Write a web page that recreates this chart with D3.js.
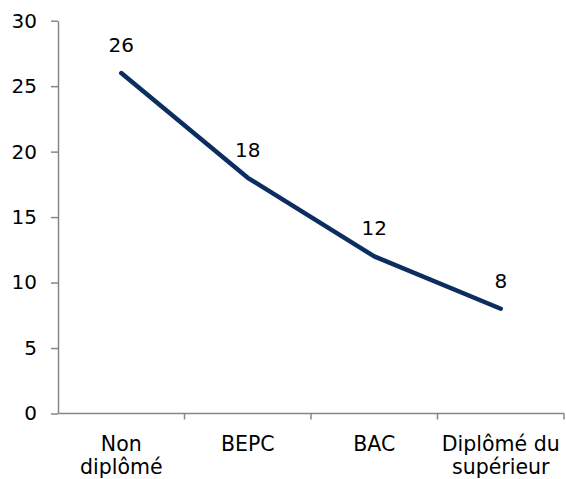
<!DOCTYPE html>
<html>
<head>
<meta charset="utf-8">
<script src="https://cdn.jsdelivr.net/npm/d3@7"></script>
<style>
  body { margin: 0; background: #fff; }
  svg { display: block; font-family: "DejaVu Sans", Verdana, sans-serif; }
</style>
</head>
<body>
<svg id="chart"></svg>
<script>
// data
const categories = ["Non diplômé", "BEPC", "BAC", "Diplômé du supérieur"];
const tickLabels = [["Non", "diplômé"], ["BEPC"], ["BAC"], ["Diplômé du", "supérieur"]];
const values = [26, 18, 12, 8];
const yTicks = [0, 5, 10, 15, 20, 25, 30];

const W = 566, H = 479;
const margin = { top: 20.7, right: 2, bottom: 65.5, left: 58 };

const svg = d3.select("#chart").attr("width", W).attr("height", H);

// scales
const x = d3.scaleBand()
  .domain(categories)
  .range([margin.left, W - margin.right])
  .paddingInner(0)
  .paddingOuter(0);

const y = d3.scaleLinear()
  .domain([0, 30])
  .range([H - margin.bottom, margin.top]);

const axisColor = "#878787";

// y axis
const yAxis = svg.append("g")
  .attr("transform", `translate(${margin.left},0)`)
  .call(d3.axisLeft(y).tickValues(yTicks).tickSize(7).tickSizeOuter(0).tickPadding(14));
yAxis.select(".domain").attr("stroke", axisColor).attr("stroke-width", 1.5);
yAxis.selectAll(".tick line").attr("stroke", axisColor).attr("stroke-width", 1.5);
yAxis.selectAll(".tick text")
  .attr("font-size", 20)
  .attr("font-family", "DejaVu Sans, sans-serif")
  .attr("fill", "#000");

// x axis line + boundary ticks
const x0 = y(0);
svg.append("line")
  .attr("x1", x.range()[0]).attr("x2", x.range()[1])
  .attr("y1", x0).attr("y2", x0)
  .attr("stroke", axisColor).attr("stroke-width", 1.5);

const bounds = categories.map(c => x(c)).concat([x.range()[1]]);
svg.append("g").selectAll("line")
  .data(bounds.slice(1))
  .enter()
  .append("line")
  .attr("x1", d => d).attr("x2", d => d)
  .attr("y1", x0).attr("y2", x0 + 6)
  .attr("stroke", axisColor).attr("stroke-width", 1.5);

// category labels
const catLabels = svg.append("g")
  .selectAll("text")
  .data(categories)
  .enter()
  .append("text")
  .attr("x", d => x(d) + x.bandwidth() / 2)
  .attr("y", x0 + 37)
  .attr("text-anchor", "middle")
  .attr("font-size", 20.5)
  .attr("fill", "#000");

catLabels.each(function (d, i) {
  d3.select(this).selectAll("tspan")
    .data(tickLabels[i])
    .enter()
    .append("tspan")
    .attr("x", x(d) + x.bandwidth() / 2)
    .attr("dy", (t, j) => j === 0 ? 0 : 23)
    .text(t => t);
});

// line
const line = d3.line()
  .x((d, i) => x(categories[i]) + x.bandwidth() / 2)
  .y(d => y(d));

svg.append("path")
  .datum(values)
  .attr("d", line)
  .attr("fill", "none")
  .attr("stroke", "#0c2d5f")
  .attr("stroke-width", 4.5)
  .attr("stroke-linejoin", "round")
  .attr("stroke-linecap", "round");

// value labels
svg.append("g")
  .selectAll("text")
  .data(values)
  .enter()
  .append("text")
  .attr("x", (d, i) => x(categories[i]) + x.bandwidth() / 2)
  .attr("y", d => y(d) - 21)
  .attr("text-anchor", "middle")
  .attr("font-size", 20)
  .attr("fill", "#000")
  .text(d => d);
</script>
</body>
</html>
